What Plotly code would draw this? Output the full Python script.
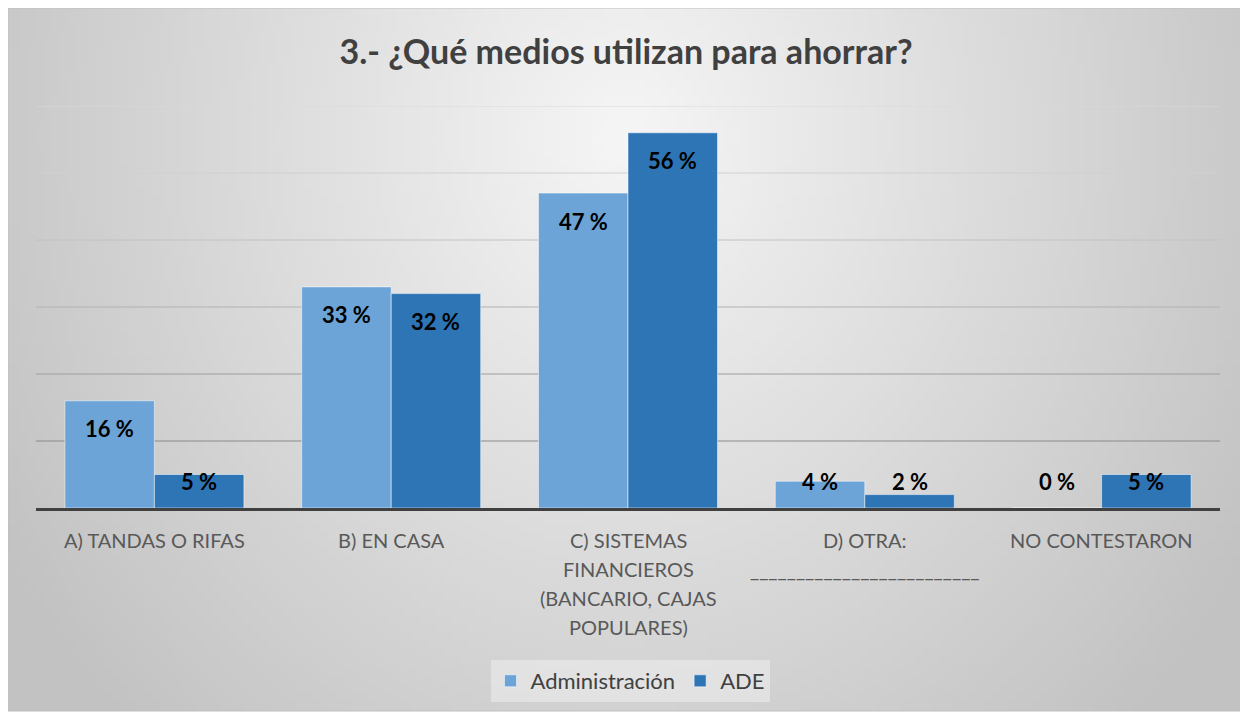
import base64
import struct
import zlib
import plotly.graph_objects as go

categories = ["A", "B", "C", "D", "NC"]
label_lines = [
    ["A) TANDAS O RIFAS"],
    ["B) EN CASA"],
    ["C) SISTEMAS", "FINANCIEROS", "(BANCARIO, CAJAS", "POPULARES)"],
    ["D) OTRA:", "_" * 25],
    ["NO CONTESTARON"],
]
admin_values = [16, 33, 47, 4, 0]
ade_values = [5, 32, 56, 2, 5]
series_names = ["Administración", "ADE"]
series_colors = ["#6CA4D8", "#2E75B6"]

# the page puts the figure 8px in from the window corner
OFF = 8
W, H = 1240, 706
L, T = 36 - OFF, 106 - OFF
R = W - (1220 - OFF)
B = H - (508 - OFF)
plot_w = W - L - R
plot_h = H - T - B


def px_x(px):
    return (px - OFF - L) / plot_w


def px_y(py):
    return (H - B - (py - OFF)) / plot_h


def gradient_png(w=160, h=92):
    # radial grey background like the Excel chart area
    rows = b""
    for j in range(h):
        rows += b"\x00"
        yy = j / (h - 1)
        for i in range(w):
            xx = i / (w - 1)
            d = (((xx - 0.5) / 0.55) ** 2 + ((yy - 0.18) / 1.1) ** 2) ** 0.5
            v = int(max(194, 246 - 48 * d))
            rows += bytes([v])
    def chunk(tag, data):
        c = struct.pack(">I", len(data)) + tag + data
        return c + struct.pack(">I", zlib.crc32(tag + data) & 0xffffffff)
    png = b"\x89PNG\r\n\x1a\n"
    png += chunk(b"IHDR", struct.pack(">IIBBBBB", w, h, 8, 0, 0, 0, 0))
    png += chunk(b"IDAT", zlib.compress(rows, 9))
    png += chunk(b"IEND", b"")
    return "data:image/png;base64," + base64.b64encode(png).decode()


fig = go.Figure()
for name, vals, col in zip(series_names, [admin_values, ade_values], series_colors):
    fig.add_trace(go.Bar(
        x=categories, y=vals, name=name,
        marker=dict(color=col, line=dict(color="rgba(255,255,255,0.5)", width=1)),
        hoverinfo="name+y",
    ))

# chart area box
x0, x1 = px_x(OFF), px_x(1243)
y0, y1 = px_y(711), px_y(OFF)
fig.add_layout_image(dict(
    source=gradient_png(), xref="paper", yref="paper",
    x=x0, y=y1, sizex=x1 - x0, sizey=y1 - y0,
    xanchor="left", yanchor="top", sizing="stretch", layer="below",
))
shapes = [dict(type="rect", xref="paper", yref="paper", x0=x0, x1=x1, y0=y0, y1=y1,
               line=dict(color="#BFBFBF", width=1), layer="below")]
grid_levels = [10, 20, 30, 40, 50, 60]
grid_colors = ["#8A8A8A", "#9E9E9E", "#B2B2B2", "#C2C2C2", "#D0D0D0", "#D9D9D9"]
for lvl, gc in zip(grid_levels, grid_colors):
    shapes.append(dict(type="line", xref="paper", yref="y", x0=0, x1=1, y0=lvl, y1=lvl,
                       line=dict(color=gc, width=1), layer="below"))

annotations = []
# bar value labels
bargap = 0.244
half = (1 - bargap) * plot_w / len(categories) / 4
for k, vals in enumerate([admin_values, ade_values]):
    shift = -half if k == 0 else half
    for c, v in zip(categories, vals):
        annotations.append(dict(
            x=c, y=max(v, 8.1), xref="x", yref="y", text=f"{v} %",
            showarrow=False, xshift=shift, yshift=-28, yanchor="middle",
            font=dict(family="Lato", size=22, color="#000000", weight=700),
        ))
# category labels, one line each (Excel line spacing)
for c, lines in zip(categories, label_lines):
    for i, ln in enumerate(lines):
        annotations.append(dict(
            x=c, y=0, xref="x", yref="y", text=ln, showarrow=False,
            yanchor="middle", yshift=-32 - 29 * i,
            font=dict(family="Lato", size=20, color="#595959"),
        ))

fig.update_layout(
    width=W, height=H,
    margin=dict(l=L, r=R, t=T, b=B),
    paper_bgcolor="white", plot_bgcolor="rgba(0,0,0,0)",
    barmode="group", bargap=bargap, bargroupgap=0,
    title=dict(text="3.- ¿Qué medios utilizan para ahorrar?", x=(626 - OFF) / W,
               xanchor="center", y=1 - (52 - OFF) / H, yanchor="middle",
               font=dict(family="Lato", size=34, color="#404040", weight=700)),
    font=dict(family="Lato", color="#595959"),
    xaxis=dict(showticklabels=False, showgrid=False, showline=True, linecolor="#404040",
               linewidth=3, ticks="", fixedrange=True),
    yaxis=dict(range=[0, 60], showticklabels=False, showgrid=False, zeroline=False,
               showline=False, fixedrange=True),
    legend=dict(orientation="h", x=px_x(630), xanchor="center", y=px_y(681), yanchor="middle",
                bgcolor="rgba(238,238,238,0.55)", font=dict(family="Lato", size=22, color="#404040"),
                itemclick=False),
    shapes=shapes,
    annotations=annotations,
)

fig.write_html("out.html")
